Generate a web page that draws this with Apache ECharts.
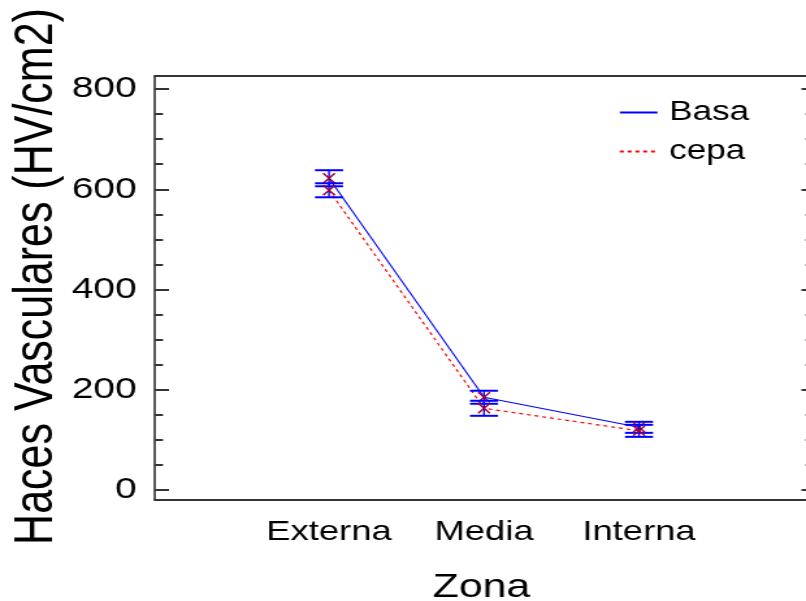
<!DOCTYPE html>
<html>
<head>
<meta charset="utf-8">
<script src="https://cdn.jsdelivr.net/npm/echarts@6/dist/echarts.min.js"></script>
<style>
html,body{margin:0;padding:0;background:#fff;}
#wrap{width:806px;height:601px;overflow:hidden;position:relative;}
#c{width:620px;height:601px;transform:scaleX(1.3);transform-origin:0 0;}
</style>
</head>
<body>
<div id="wrap"><div id="c"></div></div>
<script>
// ---- data ----
const categories = ['Externa', 'Media', 'Interna'];
const basaMean = [622, 185, 125];
const basaErr  = [16, 13, 11];
const cepaMean = [598, 163, 118];
const cepaErr  = [14, 15, 12];
const yMajorTicks = [0, 200, 400, 600, 800];
const yMinorTicks = [50, 100, 150, 250, 300, 350, 450, 500, 550, 650, 700, 750];

const catPos = categories.map((c, i) => i + 1);
const lineData = (means) => means.map((v, i) => [catPos[i], v]);
const errData = (means, errs) => means.map((v, i) => [catPos[i], v, errs[i]]);

const chart = echarts.init(document.getElementById('c'));
const FONT = 'Liberation Sans, Arial, sans-serif';
const FRAME = '#333';
const X_MIN = -0.123, X_MAX = 4.09, Y_MIN = -20, Y_MAX = 826;
const GRID = {left: 119.2, right: -1.5, top: 76, bottom: 101, containLabel: false, outerBoundsMode: 'none'};

function renderErr(params, api) {
  const x = api.value(0), m = api.value(1), e = api.value(2);
  const t = api.coord([x, m + e]), b = api.coord([x, m - e]), c = api.coord([x, m]);
  const hw = 10.8, mw = 4.5, mh = 5;
  const blue = '#0000ff', mk = '#99003a';
  return {
    type: 'group',
    children: [
      {type: 'line', shape: {x1: t[0], y1: t[1], x2: b[0], y2: b[1]}, style: {stroke: blue, lineWidth: 1.4}},
      {type: 'line', shape: {x1: t[0] - hw, y1: t[1], x2: t[0] + hw, y2: t[1]}, style: {stroke: blue, lineWidth: 2}},
      {type: 'line', shape: {x1: b[0] - hw, y1: b[1], x2: b[0] + hw, y2: b[1]}, style: {stroke: blue, lineWidth: 2}},
      {type: 'line', shape: {x1: c[0] - mw, y1: c[1] - mh, x2: c[0] + mw, y2: c[1] + mh}, style: {stroke: mk, lineWidth: 1.4}},
      {type: 'line', shape: {x1: c[0] - mw, y1: c[1] + mh, x2: c[0] + mw, y2: c[1] - mh}, style: {stroke: mk, lineWidth: 1.4}}
    ]
  };
}

const yBase = {type: 'value', min: Y_MIN, max: Y_MAX, splitLine: {show: false}};
const xHidden = {type: 'value', min: X_MIN, max: X_MAX, axisLine: {show: false, onZero: false}, axisTick: {show: false}, axisLabel: {show: false}, splitLine: {show: false}};

chart.setOption({
  animation: false,
  backgroundColor: '#fff',
  grid: [Object.assign({}, GRID), Object.assign({}, GRID)],
  legend: {
    data: ['Basa', 'cepa'],
    orient: 'vertical',
    left: 470.8,
    top: 94,
    itemWidth: 29,
    itemHeight: 14,
    itemGap: 12,
    itemStyle: {opacity: 0},
    textStyle: {fontFamily: FONT, fontSize: 27, color: '#000', padding: [0, 0, 0, 4]},
    selectedMode: false
  },
  xAxis: [
    {
      type: 'value', gridIndex: 0, position: 'bottom', min: X_MIN, max: X_MAX,
      axisLine: {show: true, onZero: false, lineStyle: {color: FRAME, width: 2}},
      axisTick: {show: false},
      splitLine: {show: false},
      axisLabel: {
        customValues: catPos,
        formatter: (v) => categories[Math.round(v) - 1] || '',
        fontFamily: FONT, fontSize: 28, color: '#000', margin: 18
      },
      name: 'Zona', nameLocation: 'middle', nameGap: 71,
      nameTextStyle: {fontFamily: FONT, fontSize: 33, color: '#000'}
    },
    {
      type: 'value', gridIndex: 0, position: 'top', min: X_MIN, max: X_MAX,
      axisLine: {show: true, onZero: false, lineStyle: {color: FRAME, width: 2}},
      axisTick: {show: false}, axisLabel: {show: false}, splitLine: {show: false}
    },
    Object.assign({gridIndex: 1, position: 'bottom'}, xHidden)
  ],
  yAxis: [
    Object.assign({}, yBase, {
      gridIndex: 0, position: 'left',
      axisLine: {show: true, onZero: false, lineStyle: {color: FRAME, width: 1.6}},
      axisTick: {show: true, inside: true, length: 10.8, customValues: yMajorTicks, lineStyle: {color: FRAME, width: 2}},
      axisLabel: {customValues: yMajorTicks, fontFamily: FONT, fontSize: 30, color: '#000', margin: 14},
      name: 'Haces Vasculares (HV/cm2)', nameLocation: 'middle', nameGap: 70, nameMoveOverlap: false,
      nameTextStyle: {fontFamily: FONT, fontSize: 43, color: '#000', padding: [0, 0, 0, 23]}
    }),
    Object.assign({}, yBase, {
      gridIndex: 0, position: 'right',
      axisLine: {show: false, onZero: false},
      axisTick: {show: true, inside: true, length: 5, customValues: yMajorTicks, lineStyle: {color: FRAME, width: 2}},
      axisLabel: {show: false}
    }),
    Object.assign({}, yBase, {
      gridIndex: 1, position: 'left',
      axisLine: {show: false, onZero: false},
      axisTick: {show: true, inside: true, length: 6.2, customValues: yMinorTicks, lineStyle: {color: FRAME, width: 2}},
      axisLabel: {show: false}
    }),
    Object.assign({}, yBase, {
      gridIndex: 1, position: 'right',
      axisLine: {show: false, onZero: false},
      axisTick: {show: true, inside: true, length: 2.5, customValues: yMinorTicks, lineStyle: {color: '#aaa', width: 1.5}},
      axisLabel: {show: false}
    })
  ],
  series: [
    {
      name: 'Basa', type: 'line', xAxisIndex: 0, yAxisIndex: 0,
      data: lineData(basaMean), symbol: 'none', showSymbol: false,
      lineStyle: {color: '#0000ff', width: 1.1, type: 'solid'},
      itemStyle: {color: '#0000ff'}, z: 2
    },
    {
      name: 'cepa', type: 'line', xAxisIndex: 0, yAxisIndex: 0,
      data: lineData(cepaMean), symbol: 'none', showSymbol: false,
      lineStyle: {color: '#ff0000', width: 1.2, type: [3, 3]},
      itemStyle: {color: '#ff0000'}, z: 2
    },
    {
      name: 'Basa err', type: 'custom', xAxisIndex: 0, yAxisIndex: 0,
      data: errData(basaMean, basaErr), renderItem: renderErr,
      encode: {x: 0, y: 1}, z: 3, silent: true
    },
    {
      name: 'cepa err', type: 'custom', xAxisIndex: 0, yAxisIndex: 0,
      data: errData(cepaMean, cepaErr), renderItem: renderErr,
      encode: {x: 0, y: 1}, z: 3, silent: true
    }
  ]
});
</script>
</body>
</html>
